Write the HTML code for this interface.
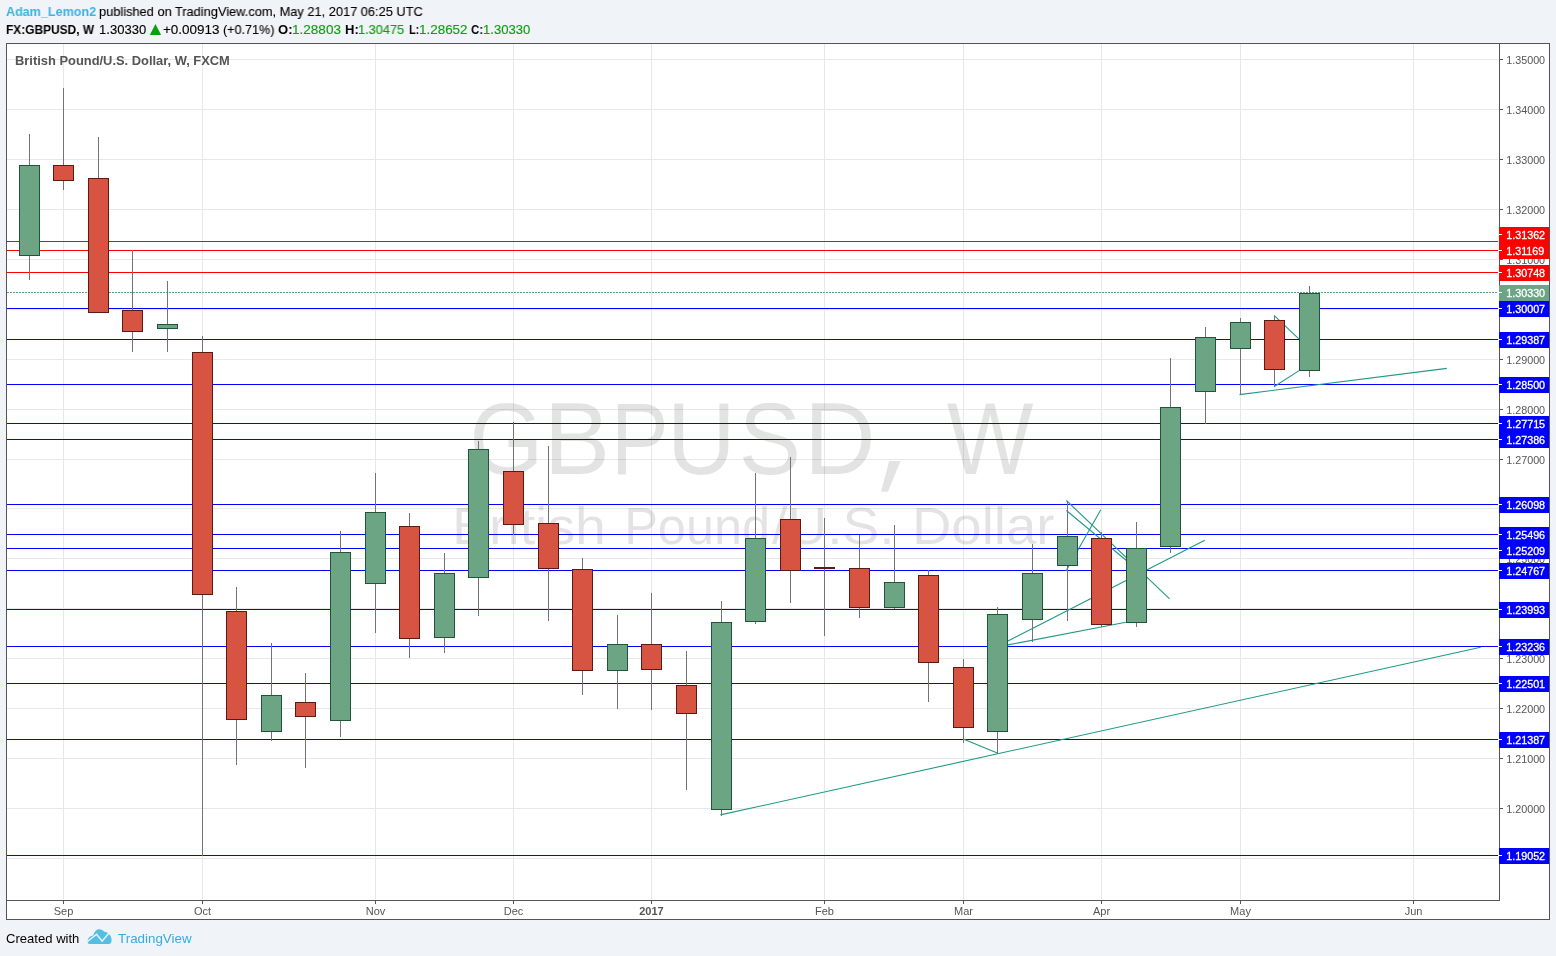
<!DOCTYPE html><html><head><meta charset="utf-8"><style>
html,body{margin:0;padding:0;}body{width:1556px;height:956px;overflow:hidden;background:#f0f3f7;position:relative;font-family:"Liberation Sans",sans-serif;}
.t{position:absolute;white-space:nowrap;}
svg{position:absolute;left:0;top:0;will-change:transform;}.t{will-change:transform;}
</style></head><body>
<svg width="1556" height="956" viewBox="0 0 1556 956" font-family="Liberation Sans, sans-serif">
<rect x="6" y="43" width="1544" height="877" fill="#ffffff"/>
<g shape-rendering="crispEdges">
<rect x="7" y="59" width="1491" height="1" fill="#e8e8e8"/>
<rect x="7" y="109" width="1491" height="1" fill="#e8e8e8"/>
<rect x="7" y="159" width="1491" height="1" fill="#e8e8e8"/>
<rect x="7" y="209" width="1491" height="1" fill="#e8e8e8"/>
<rect x="7" y="259" width="1491" height="1" fill="#e8e8e8"/>
<rect x="7" y="309" width="1491" height="1" fill="#e8e8e8"/>
<rect x="7" y="359" width="1491" height="1" fill="#e8e8e8"/>
<rect x="7" y="409" width="1491" height="1" fill="#e8e8e8"/>
<rect x="7" y="459" width="1491" height="1" fill="#e8e8e8"/>
<rect x="7" y="508" width="1491" height="1" fill="#e8e8e8"/>
<rect x="7" y="558" width="1491" height="1" fill="#e8e8e8"/>
<rect x="7" y="608" width="1491" height="1" fill="#e8e8e8"/>
<rect x="7" y="658" width="1491" height="1" fill="#e8e8e8"/>
<rect x="7" y="708" width="1491" height="1" fill="#e8e8e8"/>
<rect x="7" y="758" width="1491" height="1" fill="#e8e8e8"/>
<rect x="7" y="808" width="1491" height="1" fill="#e8e8e8"/>
<rect x="7" y="858" width="1491" height="1" fill="#e8e8e8"/>
<rect x="63" y="44" width="1" height="855" fill="#e8e8e8"/>
<rect x="202" y="44" width="1" height="855" fill="#e8e8e8"/>
<rect x="375" y="44" width="1" height="855" fill="#e8e8e8"/>
<rect x="513" y="44" width="1" height="855" fill="#e8e8e8"/>
<rect x="651" y="44" width="1" height="855" fill="#e8e8e8"/>
<rect x="824" y="44" width="1" height="855" fill="#e8e8e8"/>
<rect x="963" y="44" width="1" height="855" fill="#e8e8e8"/>
<rect x="1101" y="44" width="1" height="855" fill="#e8e8e8"/>
<rect x="1240" y="44" width="1" height="855" fill="#e8e8e8"/>
<rect x="1413" y="44" width="1" height="855" fill="#e8e8e8"/>
</g>
<g fill="#000" fill-opacity="0.11">
<text transform="translate(469.13,474) scale(0.940,1)" font-size="101.5">G</text>
<text transform="translate(543.84,474) scale(0.980,1)" font-size="101.5">B</text>
<text transform="translate(610.66,474) scale(0.855,1)" font-size="101.5">P</text>
<text transform="translate(667.07,474) scale(0.936,1)" font-size="101.5">U</text>
<text transform="translate(738.80,474) scale(0.920,1)" font-size="101.5">S</text>
<text transform="translate(804.07,474) scale(0.977,1)" font-size="101.5">D</text>
<text transform="translate(946.84,474) scale(0.905,1)" font-size="101.5">W</text>
<polygon points="889.2,461 900.6,461 887.9,491.8 881.0,491.8"/>
<text transform="translate(452.07,544.2) scale(1.086,1)" font-size="51">British</text>
<text transform="translate(624.16,544.2) scale(0.990,1)" font-size="51">Pound</text>
<text transform="translate(772.00,544.2) scale(1.082,1)" font-size="51">/U.S.</text>
<text transform="translate(911.93,544.2) scale(1.070,1)" font-size="51">Dollar</text>
</g>
<g shape-rendering="crispEdges">
<rect x="7" y="241" width="1491" height="1" fill="#ff0000"/>
<rect x="7" y="250" width="1491" height="1" fill="#ff0000"/>
<rect x="7" y="272" width="1491" height="1" fill="#ff0000"/>
<rect x="7" y="308" width="1491" height="1" fill="#0000ff"/>
<rect x="7" y="339" width="1491" height="1" fill="#0000ff"/>
<rect x="7" y="384" width="1491" height="1" fill="#0000ff"/>
<rect x="7" y="423" width="1491" height="1" fill="#0000ff"/>
<rect x="7" y="439" width="1491" height="1" fill="#0000ff"/>
<rect x="7" y="504" width="1491" height="1" fill="#0000ff"/>
<rect x="7" y="534" width="1491" height="1" fill="#0000ff"/>
<rect x="7" y="548" width="1491" height="1" fill="#0000ff"/>
<rect x="7" y="570" width="1491" height="1" fill="#0000ff"/>
<rect x="7" y="609" width="1491" height="1" fill="#0000ff"/>
<rect x="7" y="646" width="1491" height="1" fill="#0000ff"/>
<rect x="7" y="683" width="1491" height="1" fill="#0000ff"/>
<rect x="7" y="739" width="1491" height="1" fill="#0000ff"/>
<rect x="7" y="855" width="1491" height="1" fill="#0000ff"/>
<line x1="7" y1="292.5" x2="1498" y2="292.5" stroke="#5e9e78" stroke-width="1" stroke-dasharray="2,1"/>
</g>
<line x1="720.4" y1="814.9" x2="1480.7" y2="647.3" stroke="#1e9a85" stroke-width="1.1"/>
<line x1="963.8" y1="739.2" x2="997.3" y2="753.1" stroke="#1e9a85" stroke-width="1.1"/>
<line x1="1007.9" y1="641.0" x2="1204.8" y2="540.3" stroke="#1e9a85" stroke-width="1.1"/>
<line x1="1007.9" y1="644.9" x2="1125.8" y2="622.3" stroke="#1e9a85" stroke-width="1.1"/>
<line x1="1066.4" y1="500.5" x2="1169.6" y2="598.8" stroke="#1e9a85" stroke-width="1.1"/>
<line x1="1066.4" y1="510.5" x2="1127.0" y2="561.0" stroke="#1e9a85" stroke-width="1.1"/>
<line x1="1066.0" y1="571.0" x2="1100.8" y2="509.7" stroke="#1e9a85" stroke-width="1.1"/>
<line x1="1239.5" y1="394.6" x2="1446.8" y2="368.4" stroke="#1e9a85" stroke-width="1.1"/>
<line x1="1274.0" y1="386.7" x2="1299.1" y2="370.6" stroke="#1e9a85" stroke-width="1.1"/>
<line x1="1274.0" y1="315.3" x2="1298.8" y2="338.9" stroke="#1e9a85" stroke-width="1.1"/>
<g shape-rendering="crispEdges">
<rect x="29" y="134" width="1" height="146" fill="#737375"/>
<rect x="19" y="165" width="21" height="91" fill="#225437"/>
<rect x="20" y="166" width="19" height="89" fill="#6ba583"/>
<rect x="63" y="88" width="1" height="102" fill="#737375"/>
<rect x="53" y="165" width="21" height="16" fill="#5b1a13"/>
<rect x="54" y="166" width="19" height="14" fill="#d75442"/>
<rect x="98" y="137" width="1" height="176" fill="#737375"/>
<rect x="88" y="178" width="21" height="135" fill="#5b1a13"/>
<rect x="89" y="179" width="19" height="133" fill="#d75442"/>
<rect x="132" y="250" width="1" height="102" fill="#737375"/>
<rect x="122" y="310" width="21" height="22" fill="#5b1a13"/>
<rect x="123" y="311" width="19" height="20" fill="#d75442"/>
<rect x="167" y="281" width="1" height="71" fill="#737375"/>
<rect x="157" y="324" width="21" height="5" fill="#225437"/>
<rect x="158" y="325" width="19" height="3" fill="#6ba583"/>
<rect x="202" y="336" width="1" height="520" fill="#737375"/>
<rect x="192" y="352" width="21" height="243" fill="#5b1a13"/>
<rect x="193" y="353" width="19" height="241" fill="#d75442"/>
<rect x="236" y="587" width="1" height="178" fill="#737375"/>
<rect x="226" y="611" width="21" height="109" fill="#5b1a13"/>
<rect x="227" y="612" width="19" height="107" fill="#d75442"/>
<rect x="271" y="643" width="1" height="98" fill="#737375"/>
<rect x="261" y="695" width="21" height="37" fill="#225437"/>
<rect x="262" y="696" width="19" height="35" fill="#6ba583"/>
<rect x="305" y="673" width="1" height="95" fill="#737375"/>
<rect x="295" y="702" width="21" height="15" fill="#5b1a13"/>
<rect x="296" y="703" width="19" height="13" fill="#d75442"/>
<rect x="340" y="531" width="1" height="206" fill="#737375"/>
<rect x="330" y="552" width="21" height="169" fill="#225437"/>
<rect x="331" y="553" width="19" height="167" fill="#6ba583"/>
<rect x="375" y="473" width="1" height="160" fill="#737375"/>
<rect x="365" y="512" width="21" height="72" fill="#225437"/>
<rect x="366" y="513" width="19" height="70" fill="#6ba583"/>
<rect x="409" y="513" width="1" height="145" fill="#737375"/>
<rect x="399" y="526" width="21" height="113" fill="#5b1a13"/>
<rect x="400" y="527" width="19" height="111" fill="#d75442"/>
<rect x="444" y="553" width="1" height="100" fill="#737375"/>
<rect x="434" y="573" width="21" height="65" fill="#225437"/>
<rect x="435" y="574" width="19" height="63" fill="#6ba583"/>
<rect x="478" y="441" width="1" height="175" fill="#737375"/>
<rect x="468" y="449" width="21" height="129" fill="#225437"/>
<rect x="469" y="450" width="19" height="127" fill="#6ba583"/>
<rect x="513" y="422" width="1" height="113" fill="#737375"/>
<rect x="503" y="471" width="21" height="54" fill="#5b1a13"/>
<rect x="504" y="472" width="19" height="52" fill="#d75442"/>
<rect x="548" y="446" width="1" height="175" fill="#737375"/>
<rect x="538" y="523" width="21" height="46" fill="#5b1a13"/>
<rect x="539" y="524" width="19" height="44" fill="#d75442"/>
<rect x="582" y="558" width="1" height="137" fill="#737375"/>
<rect x="572" y="569" width="21" height="102" fill="#5b1a13"/>
<rect x="573" y="570" width="19" height="100" fill="#d75442"/>
<rect x="617" y="615" width="1" height="94" fill="#737375"/>
<rect x="607" y="644" width="21" height="27" fill="#225437"/>
<rect x="608" y="645" width="19" height="25" fill="#6ba583"/>
<rect x="651" y="593" width="1" height="117" fill="#737375"/>
<rect x="641" y="644" width="21" height="26" fill="#5b1a13"/>
<rect x="642" y="645" width="19" height="24" fill="#d75442"/>
<rect x="686" y="651" width="1" height="139" fill="#737375"/>
<rect x="676" y="685" width="21" height="29" fill="#5b1a13"/>
<rect x="677" y="686" width="19" height="27" fill="#d75442"/>
<rect x="721" y="601" width="1" height="215" fill="#737375"/>
<rect x="711" y="622" width="21" height="188" fill="#225437"/>
<rect x="712" y="623" width="19" height="186" fill="#6ba583"/>
<rect x="755" y="473" width="1" height="151" fill="#737375"/>
<rect x="745" y="538" width="21" height="84" fill="#225437"/>
<rect x="746" y="539" width="19" height="82" fill="#6ba583"/>
<rect x="790" y="457" width="1" height="146" fill="#737375"/>
<rect x="780" y="519" width="21" height="52" fill="#5b1a13"/>
<rect x="781" y="520" width="19" height="50" fill="#d75442"/>
<rect x="824" y="518" width="1" height="118" fill="#737375"/>
<rect x="814" y="567" width="21" height="2" fill="#5b1a13"/>
<rect x="859" y="535" width="1" height="83" fill="#737375"/>
<rect x="849" y="568" width="21" height="40" fill="#5b1a13"/>
<rect x="850" y="569" width="19" height="38" fill="#d75442"/>
<rect x="894" y="525" width="1" height="84" fill="#737375"/>
<rect x="884" y="582" width="21" height="26" fill="#225437"/>
<rect x="885" y="583" width="19" height="24" fill="#6ba583"/>
<rect x="928" y="570" width="1" height="132" fill="#737375"/>
<rect x="918" y="575" width="21" height="88" fill="#5b1a13"/>
<rect x="919" y="576" width="19" height="86" fill="#d75442"/>
<rect x="963" y="659" width="1" height="84" fill="#737375"/>
<rect x="953" y="667" width="21" height="61" fill="#5b1a13"/>
<rect x="954" y="668" width="19" height="59" fill="#d75442"/>
<rect x="997" y="607" width="1" height="147" fill="#737375"/>
<rect x="987" y="614" width="21" height="118" fill="#225437"/>
<rect x="988" y="615" width="19" height="116" fill="#6ba583"/>
<rect x="1032" y="544" width="1" height="98" fill="#737375"/>
<rect x="1022" y="573" width="21" height="47" fill="#225437"/>
<rect x="1023" y="574" width="19" height="45" fill="#6ba583"/>
<rect x="1067" y="502" width="1" height="119" fill="#737375"/>
<rect x="1057" y="536" width="21" height="30" fill="#225437"/>
<rect x="1058" y="537" width="19" height="28" fill="#6ba583"/>
<rect x="1101" y="532" width="1" height="95" fill="#737375"/>
<rect x="1091" y="538" width="21" height="87" fill="#5b1a13"/>
<rect x="1092" y="539" width="19" height="85" fill="#d75442"/>
<rect x="1136" y="522" width="1" height="105" fill="#737375"/>
<rect x="1126" y="548" width="21" height="75" fill="#225437"/>
<rect x="1127" y="549" width="19" height="73" fill="#6ba583"/>
<rect x="1170" y="358" width="1" height="195" fill="#737375"/>
<rect x="1160" y="407" width="21" height="140" fill="#225437"/>
<rect x="1161" y="408" width="19" height="138" fill="#6ba583"/>
<rect x="1205" y="327" width="1" height="97" fill="#737375"/>
<rect x="1195" y="337" width="21" height="55" fill="#225437"/>
<rect x="1196" y="338" width="19" height="53" fill="#6ba583"/>
<rect x="1240" y="318" width="1" height="77" fill="#737375"/>
<rect x="1230" y="322" width="21" height="27" fill="#225437"/>
<rect x="1231" y="323" width="19" height="25" fill="#6ba583"/>
<rect x="1274" y="316" width="1" height="71" fill="#737375"/>
<rect x="1264" y="320" width="21" height="50" fill="#5b1a13"/>
<rect x="1265" y="321" width="19" height="48" fill="#d75442"/>
<rect x="1309" y="286" width="1" height="91" fill="#737375"/>
<rect x="1299" y="293" width="21" height="78" fill="#225437"/>
<rect x="1300" y="294" width="19" height="76" fill="#6ba583"/>
</g>
<g shape-rendering="crispEdges" fill="#555555">
<rect x="6" y="43" width="1544" height="1"/>
<rect x="6" y="43" width="1" height="877"/>
<rect x="1549" y="43" width="1" height="877"/>
<rect x="6" y="919" width="1544" height="1"/>
<rect x="1499" y="43" width="1" height="858"/>
<rect x="6" y="900" width="1494" height="1"/>
<rect x="63" y="901" width="1" height="3"/>
<rect x="202" y="901" width="1" height="3"/>
<rect x="375" y="901" width="1" height="3"/>
<rect x="513" y="901" width="1" height="3"/>
<rect x="651" y="901" width="1" height="3"/>
<rect x="824" y="901" width="1" height="3"/>
<rect x="963" y="901" width="1" height="3"/>
<rect x="1101" y="901" width="1" height="3"/>
<rect x="1240" y="901" width="1" height="3"/>
<rect x="1413" y="901" width="1" height="3"/>
<rect x="1500" y="59" width="3" height="1"/>
<rect x="1500" y="109" width="3" height="1"/>
<rect x="1500" y="159" width="3" height="1"/>
<rect x="1500" y="209" width="3" height="1"/>
<rect x="1500" y="259" width="3" height="1"/>
<rect x="1500" y="309" width="3" height="1"/>
<rect x="1500" y="359" width="3" height="1"/>
<rect x="1500" y="409" width="3" height="1"/>
<rect x="1500" y="459" width="3" height="1"/>
<rect x="1500" y="508" width="3" height="1"/>
<rect x="1500" y="558" width="3" height="1"/>
<rect x="1500" y="608" width="3" height="1"/>
<rect x="1500" y="658" width="3" height="1"/>
<rect x="1500" y="708" width="3" height="1"/>
<rect x="1500" y="758" width="3" height="1"/>
<rect x="1500" y="808" width="3" height="1"/>
<rect x="1500" y="858" width="3" height="1"/>
</g>
<text transform="translate(1506.2,64.0) scale(0.98,1)" font-size="11" fill="#555555">1.35000</text>
<text transform="translate(1506.2,114.0) scale(0.98,1)" font-size="11" fill="#555555">1.34000</text>
<text transform="translate(1506.2,164.0) scale(0.98,1)" font-size="11" fill="#555555">1.33000</text>
<text transform="translate(1506.2,214.0) scale(0.98,1)" font-size="11" fill="#555555">1.32000</text>
<text transform="translate(1506.2,264.0) scale(0.98,1)" font-size="11" fill="#555555">1.31000</text>
<text transform="translate(1506.2,314.0) scale(0.98,1)" font-size="11" fill="#555555">1.30000</text>
<text transform="translate(1506.2,364.0) scale(0.98,1)" font-size="11" fill="#555555">1.29000</text>
<text transform="translate(1506.2,414.0) scale(0.98,1)" font-size="11" fill="#555555">1.28000</text>
<text transform="translate(1506.2,464.0) scale(0.98,1)" font-size="11" fill="#555555">1.27000</text>
<text transform="translate(1506.2,513.0) scale(0.98,1)" font-size="11" fill="#555555">1.26000</text>
<text transform="translate(1506.2,563.0) scale(0.98,1)" font-size="11" fill="#555555">1.25000</text>
<text transform="translate(1506.2,613.0) scale(0.98,1)" font-size="11" fill="#555555">1.24000</text>
<text transform="translate(1506.2,663.0) scale(0.98,1)" font-size="11" fill="#555555">1.23000</text>
<text transform="translate(1506.2,713.0) scale(0.98,1)" font-size="11" fill="#555555">1.22000</text>
<text transform="translate(1506.2,763.0) scale(0.98,1)" font-size="11" fill="#555555">1.21000</text>
<text transform="translate(1506.2,813.0) scale(0.98,1)" font-size="11" fill="#555555">1.20000</text>
<text transform="translate(1506.2,863.0) scale(0.98,1)" font-size="11" fill="#555555">1.19000</text>
<text x="63.5" y="915" text-anchor="middle" font-size="11" fill="#555555">Sep</text>
<text x="202.5" y="915" text-anchor="middle" font-size="11" fill="#555555">Oct</text>
<text x="375.5" y="915" text-anchor="middle" font-size="11" fill="#555555">Nov</text>
<text x="513.5" y="915" text-anchor="middle" font-size="11" fill="#555555">Dec</text>
<text x="651.5" y="915" text-anchor="middle" font-size="11" font-weight="bold" fill="#555555">2017</text>
<text x="824.5" y="915" text-anchor="middle" font-size="11" fill="#555555">Feb</text>
<text x="963.5" y="915" text-anchor="middle" font-size="11" fill="#555555">Mar</text>
<text x="1101.5" y="915" text-anchor="middle" font-size="11" fill="#555555">Apr</text>
<text x="1240.5" y="915" text-anchor="middle" font-size="11" fill="#555555">May</text>
<text x="1413.5" y="915" text-anchor="middle" font-size="11" fill="#555555">Jun</text>
<g shape-rendering="crispEdges">
<rect x="1499" y="227" width="50" height="16" fill="#ff0000"/>
<rect x="1499" y="234" width="3" height="1" fill="#ffffff"/>
<rect x="1499" y="243" width="50" height="16" fill="#ff0000"/>
<rect x="1499" y="250" width="3" height="1" fill="#ffffff"/>
<rect x="1499" y="265" width="50" height="16" fill="#ff0000"/>
<rect x="1499" y="272" width="3" height="1" fill="#ffffff"/>
<rect x="1499" y="301" width="50" height="16" fill="#0000ff"/>
<rect x="1499" y="308" width="3" height="1" fill="#ffffff"/>
<rect x="1499" y="332" width="50" height="16" fill="#0000ff"/>
<rect x="1499" y="339" width="3" height="1" fill="#ffffff"/>
<rect x="1499" y="377" width="50" height="16" fill="#0000ff"/>
<rect x="1499" y="384" width="3" height="1" fill="#ffffff"/>
<rect x="1499" y="416" width="50" height="16" fill="#0000ff"/>
<rect x="1499" y="423" width="3" height="1" fill="#ffffff"/>
<rect x="1499" y="432" width="50" height="16" fill="#0000ff"/>
<rect x="1499" y="439" width="3" height="1" fill="#ffffff"/>
<rect x="1499" y="497" width="50" height="16" fill="#0000ff"/>
<rect x="1499" y="504" width="3" height="1" fill="#ffffff"/>
<rect x="1499" y="527" width="50" height="16" fill="#0000ff"/>
<rect x="1499" y="534" width="3" height="1" fill="#ffffff"/>
<rect x="1499" y="543" width="50" height="16" fill="#0000ff"/>
<rect x="1499" y="550" width="3" height="1" fill="#ffffff"/>
<rect x="1499" y="563" width="50" height="16" fill="#0000ff"/>
<rect x="1499" y="570" width="3" height="1" fill="#ffffff"/>
<rect x="1499" y="602" width="50" height="16" fill="#0000ff"/>
<rect x="1499" y="609" width="3" height="1" fill="#ffffff"/>
<rect x="1499" y="639" width="50" height="16" fill="#0000ff"/>
<rect x="1499" y="646" width="3" height="1" fill="#ffffff"/>
<rect x="1499" y="676" width="50" height="16" fill="#0000ff"/>
<rect x="1499" y="683" width="3" height="1" fill="#ffffff"/>
<rect x="1499" y="732" width="50" height="16" fill="#0000ff"/>
<rect x="1499" y="739" width="3" height="1" fill="#ffffff"/>
<rect x="1499" y="848" width="50" height="16" fill="#0000ff"/>
<rect x="1499" y="855" width="3" height="1" fill="#ffffff"/>
<rect x="1499" y="285" width="50" height="16" fill="#6ba583"/>
<rect x="1499" y="292" width="3" height="1" fill="#ffffff"/>
</g>
<text transform="translate(1506.2,239.0) scale(0.98,1)" font-size="11" fill="#ffffff" stroke="#ffffff" stroke-width="0.3">1.31362</text>
<text transform="translate(1506.2,255.0) scale(0.98,1)" font-size="11" fill="#ffffff" stroke="#ffffff" stroke-width="0.3">1.31169</text>
<text transform="translate(1506.2,277.0) scale(0.98,1)" font-size="11" fill="#ffffff" stroke="#ffffff" stroke-width="0.3">1.30748</text>
<text transform="translate(1506.2,313.0) scale(0.98,1)" font-size="11" fill="#ffffff" stroke="#ffffff" stroke-width="0.3">1.30007</text>
<text transform="translate(1506.2,344.0) scale(0.98,1)" font-size="11" fill="#ffffff" stroke="#ffffff" stroke-width="0.3">1.29387</text>
<text transform="translate(1506.2,389.0) scale(0.98,1)" font-size="11" fill="#ffffff" stroke="#ffffff" stroke-width="0.3">1.28500</text>
<text transform="translate(1506.2,428.0) scale(0.98,1)" font-size="11" fill="#ffffff" stroke="#ffffff" stroke-width="0.3">1.27715</text>
<text transform="translate(1506.2,444.0) scale(0.98,1)" font-size="11" fill="#ffffff" stroke="#ffffff" stroke-width="0.3">1.27386</text>
<text transform="translate(1506.2,509.0) scale(0.98,1)" font-size="11" fill="#ffffff" stroke="#ffffff" stroke-width="0.3">1.26098</text>
<text transform="translate(1506.2,539.0) scale(0.98,1)" font-size="11" fill="#ffffff" stroke="#ffffff" stroke-width="0.3">1.25496</text>
<text transform="translate(1506.2,555.0) scale(0.98,1)" font-size="11" fill="#ffffff" stroke="#ffffff" stroke-width="0.3">1.25209</text>
<text transform="translate(1506.2,575.0) scale(0.98,1)" font-size="11" fill="#ffffff" stroke="#ffffff" stroke-width="0.3">1.24767</text>
<text transform="translate(1506.2,614.0) scale(0.98,1)" font-size="11" fill="#ffffff" stroke="#ffffff" stroke-width="0.3">1.23993</text>
<text transform="translate(1506.2,651.0) scale(0.98,1)" font-size="11" fill="#ffffff" stroke="#ffffff" stroke-width="0.3">1.23236</text>
<text transform="translate(1506.2,688.0) scale(0.98,1)" font-size="11" fill="#ffffff" stroke="#ffffff" stroke-width="0.3">1.22501</text>
<text transform="translate(1506.2,744.0) scale(0.98,1)" font-size="11" fill="#ffffff" stroke="#ffffff" stroke-width="0.3">1.21387</text>
<text transform="translate(1506.2,860.0) scale(0.98,1)" font-size="11" fill="#ffffff" stroke="#ffffff" stroke-width="0.3">1.19052</text>
<text transform="translate(1506.2,297.0) scale(0.98,1)" font-size="11" fill="#ffffff" stroke="#ffffff" stroke-width="0.3">1.30330</text>
</svg>
<div class="t" style="left:5.62px;top:2.38px;font-size:13.04px;line-height:20px;font-weight:700;color:#3bb3e4;transform:scaleX(0.964);transform-origin:0 0;">Adam_Lemon2</div>
<div class="t" style="left:98.80px;top:2.38px;font-size:13.04px;line-height:20px;font-weight:400;color:#000000;transform:scaleX(0.983);transform-origin:0 0;-webkit-text-stroke:0.12px #000000;">published on TradingView.com, May 21, 2017 06:25 UTC</div>
<div class="t" style="left:5.56px;top:20.48px;font-size:12.46px;line-height:20px;font-weight:700;color:#000000;transform:scaleX(0.958);transform-origin:0 0;">FX:GBPUSD, W</div>
<div class="t" style="left:99.25px;top:20.28px;font-size:13.04px;line-height:20px;font-weight:400;color:#000000;transform:scaleX(1.002);transform-origin:0 0;-webkit-text-stroke:0.12px #000000;">1.30330</div>
<div class="t" style="left:163.23px;top:20.28px;font-size:13.04px;line-height:20px;font-weight:400;color:#000000;transform:scaleX(1.034);transform-origin:0 0;-webkit-text-stroke:0.12px #000000;">+0.00913</div>
<div class="t" style="left:222.54px;top:20.28px;font-size:13.04px;line-height:20px;font-weight:400;color:#000000;transform:scaleX(0.966);transform-origin:0 0;-webkit-text-stroke:0.12px #000000;">(+0.71%)</div>
<div class="t" style="left:278.08px;top:20.28px;font-size:13.04px;line-height:20px;font-weight:700;color:#000000;transform:scaleX(0.996);transform-origin:0 0;">O:</div>
<div class="t" style="left:292.02px;top:20.28px;font-size:13.04px;line-height:20px;font-weight:400;color:#0ca10c;transform:scaleX(1.039);transform-origin:0 0;-webkit-text-stroke:0.12px #0ca10c;">1.28803</div>
<div class="t" style="left:345.01px;top:20.28px;font-size:13.04px;line-height:20px;font-weight:700;color:#000000;transform:scaleX(0.973);transform-origin:0 0;">H:</div>
<div class="t" style="left:358.48px;top:20.28px;font-size:13.04px;line-height:20px;font-weight:400;color:#0ca10c;transform:scaleX(0.982);transform-origin:0 0;-webkit-text-stroke:0.12px #0ca10c;">1.30475</div>
<div class="t" style="left:408.84px;top:20.28px;font-size:13.04px;line-height:20px;font-weight:700;color:#000000;transform:scaleX(0.835);transform-origin:0 0;">L:</div>
<div class="t" style="left:419.02px;top:20.28px;font-size:13.04px;line-height:20px;font-weight:400;color:#0ca10c;transform:scaleX(1.031);transform-origin:0 0;-webkit-text-stroke:0.12px #0ca10c;">1.28652</div>
<div class="t" style="left:471.04px;top:20.28px;font-size:13.04px;line-height:20px;font-weight:700;color:#000000;transform:scaleX(0.875);transform-origin:0 0;">C:</div>
<div class="t" style="left:483.35px;top:20.28px;font-size:13.04px;line-height:20px;font-weight:400;color:#0ca10c;transform:scaleX(1.004);transform-origin:0 0;-webkit-text-stroke:0.12px #0ca10c;">1.30330</div>
<div class="t" style="left:14.60px;top:51.43px;font-size:12.90px;line-height:20px;font-weight:700;color:#555555;transform:scaleX(0.999);transform-origin:0 0;">British Pound/U.S. Dollar, W, FXCM</div>
<div class="t" style="left:5.65px;top:929.33px;font-size:12.90px;line-height:20px;font-weight:400;color:#000000;transform:scaleX(1.014);transform-origin:0 0;">Created with</div>
<div class="t" style="left:117.53px;top:929.38px;font-size:12.75px;line-height:20px;font-weight:400;color:#3ba9e0;transform:scaleX(1.049);transform-origin:0 0;">TradingView</div>
<svg style="left:0;top:0" width="200" height="40"><polygon points="149.8,35 161.1,35 155.45,24" fill="#0ca10c"/></svg>
<svg style="left:87px;top:929px" width="26" height="16" viewBox="0 0 26 16"><path d="M2.6 15 C0.8 15 0.3 13 0.7 11.2 C1.2 8.8 3.4 6.6 6.2 6.4 C7.2 2.8 9.6 0.3 12.1 0.3 C14.4 0.3 16 1.4 17.4 2.7 C19.4 3.1 20.8 3.9 21.5 4.9 C23.6 6 24.6 8.4 24.6 11.2 C24.6 13.6 23.6 15 22 15 Z" fill="#55bfe3"/><polyline points="0.2,12.8 9.6,5.2 15.1,12.1 21.2,5.0 23.5,2.6" fill="none" stroke="#f0f3f7" stroke-width="1.4"/></svg>
</body></html>
